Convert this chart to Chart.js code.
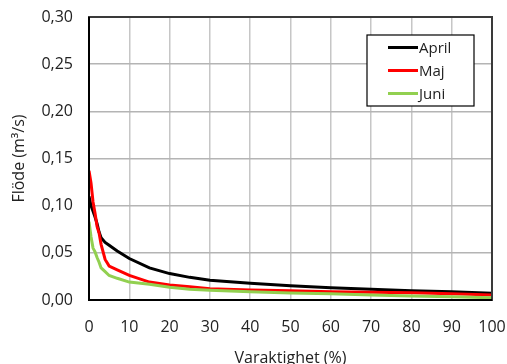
<!DOCTYPE html>
<html>
<head>
<meta charset="utf-8">
<script src="https://cdn.jsdelivr.net/npm/chart.js@4"></script>
<style>
    html, body { margin: 0; padding: 0; background: #fff; }
    #wrap { width: 507px; height: 364px; }
</style>
</head>
<body>
<div id="wrap"><canvas id="flowChart" width="507" height="364"></canvas></div>
<script>
// Varaktighet (%) och flöde (m3/s)
const duration = [0, 0.5, 1, 1.5, 2, 2.5, 3, 4, 5, 7, 10, 15, 20, 25, 30, 40, 50, 60, 70, 80, 90, 100];
const aprilFlow = [0.110, 0.100, 0.094, 0.088, 0.081, 0.072, 0.066, 0.061, 0.058, 0.052, 0.044, 0.034, 0.028, 0.024, 0.021, 0.0178, 0.015, 0.013, 0.0113, 0.0099, 0.0088, 0.0072];
const majFlow = [0.137, 0.124, 0.104, 0.092, 0.078, 0.071, 0.059, 0.043, 0.036, 0.032, 0.026, 0.019, 0.016, 0.014, 0.012, 0.0106, 0.0099, 0.0088, 0.0081, 0.0076, 0.0067, 0.0053];
const juniFlow = [0.083, 0.067, 0.055, 0.051, 0.045, 0.040, 0.034, 0.030, 0.026, 0.023, 0.019, 0.0167, 0.0135, 0.0115, 0.0103, 0.0088, 0.0074, 0.0065, 0.0053, 0.0042, 0.0035, 0.0025];
const seriesNames = ['April', 'Maj', 'Juni'];
const seriesColors = ['#000000', '#ff0000', '#92d050'];

const FONT = "'Open Sans', sans-serif";

function toPoints(values) {
    return values.map((v, i) => ({ x: duration[i], y: v }));
}

// Ram runt ritytan och förklaringsruta som i Excel
const frameAndLegend = {
    id: 'frameAndLegend',
    afterDatasetsDraw(chart) {
        const ctx = chart.ctx;
        const a = chart.chartArea;
        ctx.save();
        ctx.strokeStyle = '#3a3a3a';
        ctx.lineWidth = 2;
        ctx.strokeRect(a.left, a.top, a.right - a.left, a.bottom - a.top);
        // left and bottom axis lines in black
        ctx.strokeStyle = '#000';
        ctx.beginPath();
        ctx.moveTo(a.left, a.top);
        ctx.lineTo(a.left, a.bottom);
        ctx.lineTo(a.right, a.bottom);
        ctx.stroke();

        // legend box
        const bx = 367, by = 35, bw = 107, bh = 71;
        ctx.fillStyle = '#fff';
        ctx.fillRect(bx, by, bw, bh);
        ctx.lineWidth = 1.2;
        ctx.strokeStyle = '#000';
        ctx.strokeRect(bx, by, bw, bh);
        ctx.font = '15px ' + FONT;
        ctx.textBaseline = 'middle';
        ctx.textAlign = 'left';
        chart.data.datasets.forEach((ds, i) => {
            const y = 47.5 + i * 23;
            ctx.strokeStyle = ds.borderColor;
            ctx.lineWidth = 3;
            ctx.beginPath();
            ctx.moveTo(388, y);
            ctx.lineTo(418, y);
            ctx.stroke();
            ctx.fillStyle = '#222';
            ctx.fillText(ds.label, 419, y + 1);
        });
        ctx.restore();
    }
};

const ctx = document.getElementById('flowChart').getContext('2d');
new Chart(ctx, {
    type: 'line',
    data: {
        datasets: [aprilFlow, majFlow, juniFlow].map((vals, i) => ({
            label: seriesNames[i],
            data: toPoints(vals),
            borderColor: seriesColors[i],
            backgroundColor: seriesColors[i],
            borderWidth: 3,
            pointRadius: 0,
            tension: 0,
            order: 2 - i
        }))
    },
    options: {
        responsive: false,
        animation: false,
        layout: { padding: { left: 5, right: 15, top: 17, bottom: 0 } },
        plugins: {
            legend: { display: false },
            tooltip: { enabled: false }
        },
        scales: {
            x: {
                type: 'linear',
                min: 0,
                max: 100,
                ticks: {
                    stepSize: 10,
                    color: '#222',
                    font: { family: FONT, size: 16 },
                    padding: 18,
                    maxRotation: 0
                },
                grid: { color: '#c6c6c6', lineWidth: 1.5, drawTicks: false },
                border: { display: false },
                title: {
                    display: true,
                    text: 'Varaktighet (%)',
                    color: '#222',
                    font: { family: FONT, size: 16, lineHeight: 1 },
                    padding: { top: 0, bottom: -2 }
                },
                afterFit(scale) {
                    scale.height = 64;
                    scale.paddingLeft = 0;
                    scale.paddingRight = 0;
                }
            },
            y: {
                min: 0,
                max: 0.30,
                ticks: {
                    stepSize: 0.05,
                    color: '#222',
                    font: { family: FONT, size: 16 },
                    padding: 16,
                    callback: v => v.toFixed(2).replace('.', ',')
                },
                grid: { color: '#b4b4b4', lineWidth: 1.5, drawTicks: false },
                border: { display: false },
                title: {
                    display: true,
                    text: 'Flöde (m³/s)',
                    color: '#222',
                    font: { family: FONT, size: 16, lineHeight: 1.2 },
                    padding: { top: 5, bottom: 0 }
                },
                afterFit(scale) {
                    scale.width = 84;
                    scale.paddingTop = 0;
                    scale.paddingBottom = 0;
                }
            }
        }
    },
    plugins: [frameAndLegend]
});
</script>
</body>
</html>
